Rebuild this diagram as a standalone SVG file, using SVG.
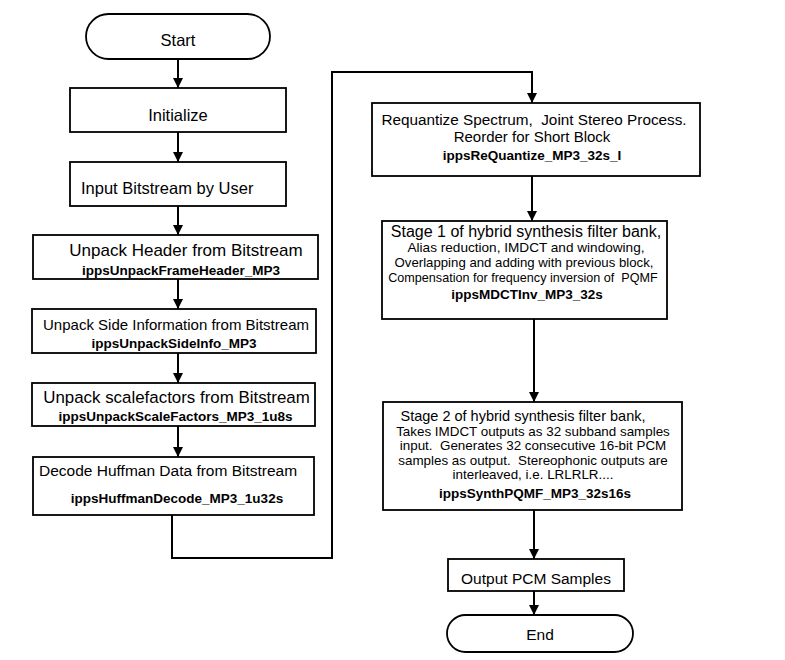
<svg xmlns="http://www.w3.org/2000/svg" width="785" height="660" viewBox="0 0 785 660">
<style>
.b{fill:#fff;stroke:#000;stroke-width:1.8}
.c{fill:none;stroke:#000;stroke-width:2}
text{font-family:"Liberation Sans",Arial,sans-serif;fill:#000;white-space:pre}
.t{font-size:16.5px;text-anchor:middle}
.m{font-size:13px;text-anchor:middle}
.k{font-size:13.5px;font-weight:bold;text-anchor:middle}
</style>
<defs>
<marker id="a" markerUnits="userSpaceOnUse" markerWidth="10" markerHeight="12" refX="10" refY="5" orient="auto">
<path d="M0,0 L10,5 L0,10 Z" fill="#000"/>
</marker>
</defs>
<rect width="785" height="660" fill="#fff"/>
<g id="connectors">
<line class="c" x1="178" y1="59" x2="178" y2="88" marker-end="url(#a)"/>
<line class="c" x1="178" y1="132" x2="178" y2="162" marker-end="url(#a)"/>
<line class="c" x1="178" y1="206" x2="178" y2="235" marker-end="url(#a)"/>
<line class="c" x1="178" y1="279" x2="178" y2="309" marker-end="url(#a)"/>
<line class="c" x1="178" y1="353" x2="178" y2="383" marker-end="url(#a)"/>
<line class="c" x1="178" y1="426" x2="178" y2="457" marker-end="url(#a)"/>
<polyline class="c" points="172,515 172,558 332,558 332,72 532,72 532,103" marker-end="url(#a)"/>
<line class="c" x1="532" y1="176" x2="532" y2="221" marker-end="url(#a)"/>
<line class="c" x1="534" y1="319" x2="534" y2="402" marker-end="url(#a)"/>
<line class="c" x1="534" y1="510" x2="534" y2="559" marker-end="url(#a)"/>
<line class="c" x1="534" y1="591" x2="534" y2="615" marker-end="url(#a)"/>
</g>
<g id="start">
<rect class="b" x="86" y="14" width="184" height="45" rx="22.5"/>
<text class="t" x="178" y="46">Start</text>
</g>
<g id="initialize">
<rect class="b" x="70" y="88" width="216" height="44"/>
<text class="t" x="178" y="121">Initialize</text>
</g>
<g id="input">
<rect class="b" x="70" y="162" width="216" height="44"/>
<text class="t" x="81" y="194" style="text-anchor:start">Input Bitstream by User</text>
</g>
<g id="header">
<rect class="b" x="33" y="235" width="285" height="44"/>
<text class="t" x="186" y="256" style="font-size:17px">Unpack Header from Bitstream</text>
<text class="k" x="181" y="275">ippsUnpackFrameHeader_MP3</text>
</g>
<g id="sideinfo">
<rect class="b" x="32" y="309" width="284" height="44"/>
<text class="t" x="176" y="330" style="font-size:15px">Unpack Side Information from Bitstream</text>
<text class="k" x="174" y="348">ippsUnpackSideInfo_MP3</text>
</g>
<g id="scalefactors">
<rect class="b" x="32" y="383" width="283" height="43"/>
<text class="t" x="176.5" y="403" style="font-size:16.9px">Unpack scalefactors from Bitstream</text>
<text class="k" x="175.5" y="421">ippsUnpackScaleFactors_MP3_1u8s</text>
</g>
<g id="huffman">
<rect class="b" x="33" y="457" width="281" height="58"/>
<text class="t" x="39" y="476" style="font-size:15.5px;text-anchor:start">Decode Huffman Data from Bitstream</text>
<text class="k" x="177" y="503">ippsHuffmanDecode_MP3_1u32s</text>
</g>
<g id="requantize">
<rect class="b" x="372" y="103" width="328" height="73"/>
<text class="t" x="534" y="125" style="font-size:15.3px" xml:space="preserve">Requantize Spectrum,  Joint Stereo Process.</text>
<text class="t" x="532" y="142" style="font-size:15px">Reorder for Short Block</text>
<text class="k" x="532" y="160">ippsReQuantize_MP3_32s_I</text>
</g>
<g id="stage1">
<rect class="b" x="382" y="221" width="285" height="98"/>
<text class="t" x="526" y="237" style="font-size:16px">Stage 1 of hybrid synthesis filter bank,</text>
<text class="m" x="526" y="252" style="font-size:13.6px">Alias reduction, IMDCT and windowing,</text>
<text class="m" x="524" y="267" style="font-size:13.2px">Overlapping and adding with previous block,</text>
<text class="m" x="523" y="282" style="font-size:12.6px" xml:space="preserve">Compensation for frequency inversion of  PQMF</text>
<text class="k" x="527" y="299">ippsMDCTInv_MP3_32s</text>
</g>
<g id="stage2">
<rect class="b" x="383" y="402" width="299" height="108"/>
<text class="t" x="523" y="421" style="font-size:14.5px">Stage 2 of hybrid synthesis filter bank,</text>
<text class="m" x="533" y="435.5" style="font-size:13.4px">Takes IMDCT outputs as 32 subband samples</text>
<text class="m" x="533" y="450" style="font-size:13.4px" xml:space="preserve">input.  Generates 32 consecutive 16-bit PCM</text>
<text class="m" x="533" y="464.5" style="font-size:13.4px" xml:space="preserve">samples as output.  Stereophonic outputs are</text>
<text class="m" x="533" y="479" style="font-size:13.4px">interleaved, i.e. LRLRLR....</text>
<text class="k" x="535" y="498">ippsSynthPQMF_MP3_32s16s</text>
</g>
<g id="output">
<rect class="b" x="448" y="559" width="176" height="32"/>
<text class="t" x="536" y="584" style="font-size:15.5px">Output PCM Samples</text>
</g>
<g id="end">
<rect class="b" x="447" y="615" width="186" height="37" rx="18.5"/>
<text class="t" x="540" y="640" style="font-size:15.5px">End</text>
</g>
</svg>
